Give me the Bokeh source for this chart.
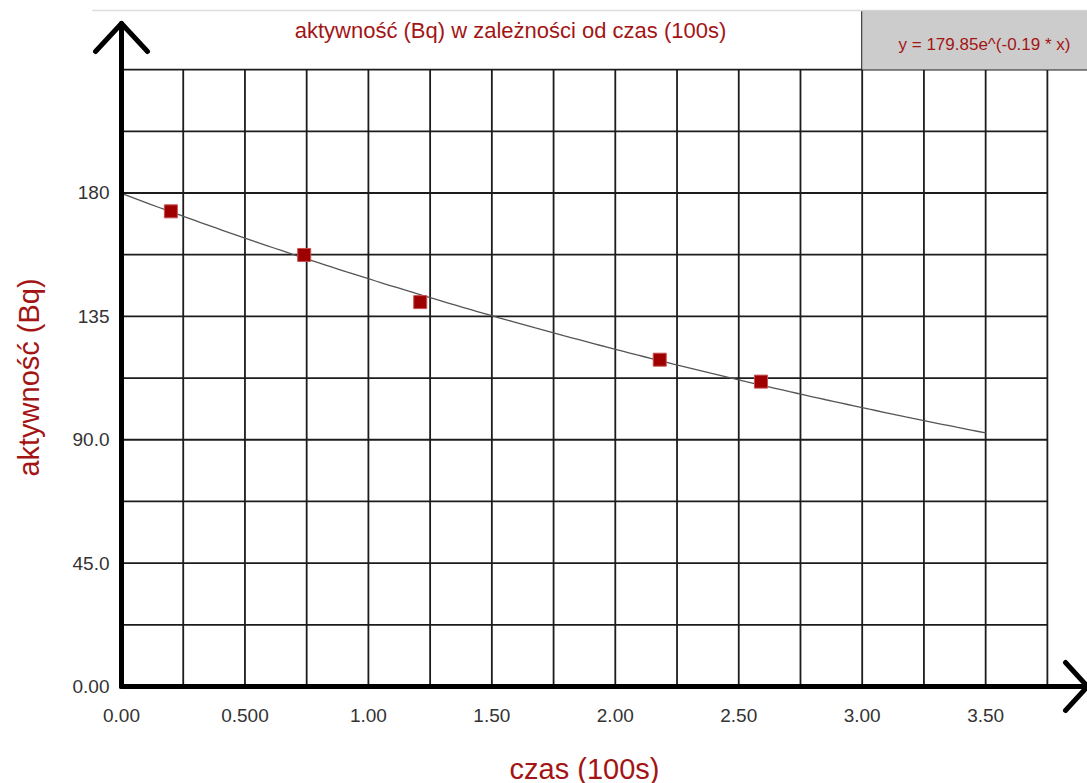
import numpy as np
from bokeh.plotting import figure
from bokeh.models import Range1d, FixedTicker, BoxAnnotation, Span, Label, PolyAnnotation
from bokeh.embed import file_html
from bokeh.resources import INLINE

# ---------------- data ----------------
time_100s = [0.20, 0.74, 1.21, 2.18, 2.59]
activity_bq = [173.3, 157.4, 140.2, 119.2, 111.2]

fit_a = 179.85
fit_b = -0.19
fit_x_max = 3.5

x_ticks = [0.0, 0.5, 1.0, 1.5, 2.0, 2.5, 3.0, 3.5]
x_tick_labels = ["0.00", "0.500", "1.00", "1.50", "2.00", "2.50", "3.00", "3.50"]
y_ticks = [0.0, 45.0, 90.0, 135.0, 180.0]
y_tick_labels = ["0.00", "45.0", "90.0", "135", "180"]

grid_x_step, grid_x_max = 0.25, 3.75
grid_y_step, grid_y_max = 22.5, 225.0

title_text = "aktywność (Bq) w zależności od czas (100s)"
equation_text = "y = 179.85e^(-0.19 * x)"
x_label = "czas (100s)"
y_label = "aktywność (Bq)"

# ---------------- layout ----------------
W, H = 1087, 783
X0, Y0 = 121, 686          # page position of the origin
FL, FB = 92, 713           # frame left / bottom on the page
PX_X = 246.9               # pixels per x unit
PX_Y = 2.7417              # pixels per y unit
FW, FH = W - FL, FB


def dx(px):
    return (px - X0) / PX_X


def dy(py):
    return (Y0 - py) / PX_Y


RED = "#a31515"
FONT = "Liberation Sans"

p = figure(frame_width=FW, frame_height=FH,
           x_range=Range1d(dx(FL), dx(W)), y_range=Range1d(dy(FB), dy(0)),
           output_backend="svg", toolbar_location=None,
           min_border_left=FL, min_border_right=0, min_border_top=0, min_border_bottom=H - FB)
p.grid.visible = False
p.outline_line_color = None
p.background_fill_color = "white"
p.border_fill_color = "white"

# top thin line and equation box
top_y = dy(10)
p.add_layout(Span(location=top_y, dimension="width", line_color="#dddddd", line_width=1.5))
p.add_layout(PolyAnnotation(xs=[dx(6), dx(FL + 1)], ys=[top_y, top_y],
                            fill_alpha=0, line_color="#dddddd", line_alpha=1.0, line_width=1.5), "left")
p.add_layout(BoxAnnotation(left=3.0, bottom=grid_y_max, top=top_y,
                           fill_color="#cccccc", fill_alpha=1.0, line_color=None))

# grid
gx = np.arange(grid_x_step, grid_x_max + 1e-9, grid_x_step)
gy = np.arange(grid_y_step, grid_y_max + 1e-9, grid_y_step)
p.segment(x0=gx, y0=0, x1=gx, y1=grid_y_max, line_color="#1c1c1c", line_width=1.8)
p.segment(x0=0, y0=gy, x1=grid_x_max, y1=gy, line_color="#1c1c1c", line_width=1.8)
# box borders
p.segment(x0=[3.0, grid_x_max], y0=[grid_y_max, grid_y_max], x1=[3.0, dx(W)], y1=[top_y, grid_y_max],
          line_color="#1c1c1c", line_width=2)

# fit curve
fx = np.linspace(0, fit_x_max, 120)
fy = fit_a * np.exp(fit_b * fx)
p.line(fx, fy, line_color="#555555", line_width=1.3)

# data points
p.scatter(time_100s, activity_bq, marker="square", size=13,
          fill_color="#9e0000", line_color="#c85050", line_width=1)

# axes lines with arrow heads
y_tip, y_arm, y_half = dy(23), dy(51), 26 / PX_X
x_tip, x_arm, x_half = dx(1087), dx(1065), 24 / PX_Y
p.multi_line(xs=[[0, 0], [-y_half, 0, y_half], [0, x_tip], [x_arm, x_tip, x_arm]],
             ys=[[0, y_tip], [y_arm, y_tip, y_arm], [0, 0], [x_half, 0, -x_half]],
             line_color="black", line_width=5, line_join="round", line_cap="round")

# title and equation
p.add_layout(Label(x=dx(510), y=dy(30), text=title_text,
                   text_align="center", text_baseline="middle", text_font=FONT,
                   text_font_size="22px", text_color=RED))
p.add_layout(Label(x=dx(984), y=dy(44), text=equation_text,
                   text_align="center", text_baseline="middle", text_font=FONT,
                   text_font_size="17px", text_color=RED))

# axis titles (centred on the grid area, like the original)
p.add_layout(Label(x=dx(584), y=dy(768), text=x_label,
                   text_align="center", text_baseline="middle", text_font=FONT,
                   text_font_size="29px", text_color=RED), "below")
p.add_layout(Label(x=dx(28), y=dy(377), text=y_label, angle=np.pi / 2,
                   text_align="center", text_baseline="middle", text_font=FONT,
                   text_font_size="29px", text_color=RED), "left")

# axes
xa = p.xaxis[0]
xa.ticker = FixedTicker(ticks=x_ticks)
xa.major_label_overrides = {t: l for t, l in zip(x_ticks, x_tick_labels)}
ya = p.yaxis[0]
ya.ticker = FixedTicker(ticks=y_ticks)
ya.major_label_overrides = {t: l for t, l in zip(y_ticks, y_tick_labels)}
for ax in (xa, ya):
    ax.axis_line_color = None
    ax.major_tick_line_color = None
    ax.minor_tick_line_color = None
    ax.major_tick_out = 0
    ax.major_tick_in = 0
    ax.major_label_text_font = FONT
    ax.major_label_text_font_size = "19px"
    ax.major_label_text_color = "#333333"
xa.major_label_standoff = 22 - (FB - Y0)
ya.major_label_standoff = 12 - (X0 - FL)

open("out.html", "w").write(file_html(p, INLINE))
